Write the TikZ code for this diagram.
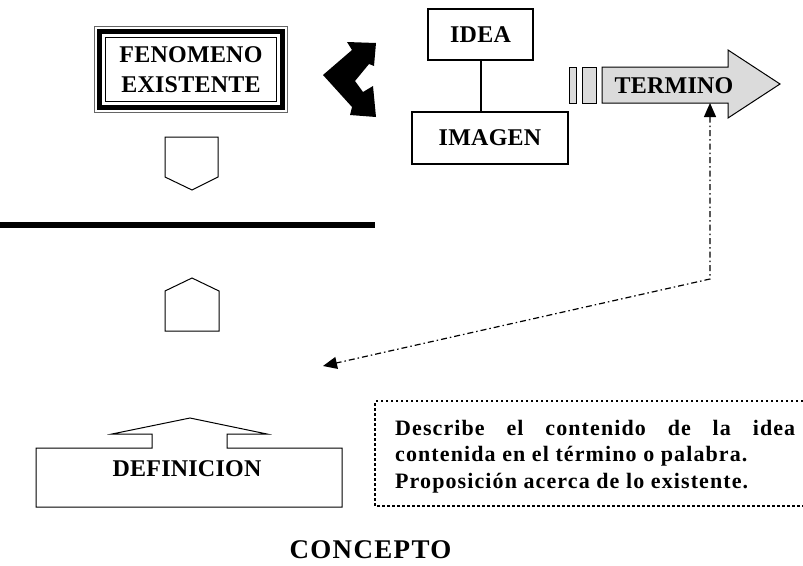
\documentclass[tikz,border=0pt]{standalone}
\usepackage{fontspec}
\setmainfont{Liberation Serif}
\usetikzlibrary{arrows.meta, positioning}
\newcommand{\capsfont}{\fontsize{24}{30}\selectfont\bfseries\addfontfeatures{LetterSpace=1}}
\newcommand{\bodyfont}{\fontsize{22}{26.5}\selectfont\bfseries\addfontfeatures{LetterSpace=5}}
\newcommand{\titlefont}{\fontsize{27}{30}\selectfont\bfseries\addfontfeatures{LetterSpace=5}}
\tikzstyle{block} = [rectangle, draw=black, text centered, font=\capsfont]
\tikzstyle{outline} = [draw=black, line width=1pt]
\tikzstyle{linkarrow} = [{Triangle[length=14pt,width=12pt]}-{Triangle[length=14pt,width=12pt]}, line width=1.2pt, dash pattern=on 6pt off 3pt on 1.5pt off 3pt]

\begin{document}
\begin{tikzpicture}[x=1pt, y=-1pt]
    \useasboundingbox (0,0) rectangle (803,565);

    % top row
    \node (fenomeno) [minimum width=192pt, minimum height=85pt, align=center, font=\capsfont] at (191,69.5) {FENOMENO\\EXISTENTE};
    \draw [line width=0.8pt, draw=black!60] (fenomeno.north west) rectangle (fenomeno.south east);
    \draw [line width=5pt] ([shift={(5pt,-5pt)}]fenomeno.north west) rectangle ([shift={(-5pt,5pt)}]fenomeno.south east);
    \draw [line width=1pt] ([shift={(10.5pt,-10.5pt)}]fenomeno.north west) rectangle ([shift={(-10.5pt,10.5pt)}]fenomeno.south east);

    \fill (323,75) -- (352,50) -- (347,42) -- (376,43) -- (374,66) -- (369,64) -- (355,81) -- (363,92) -- (373,86) -- (376,117) -- (350,115) -- (352,107) -- cycle;

    \node (idea) [block, line width=1.2pt, minimum width=105pt, minimum height=51pt] at (480.5,34.5) {IDEA};
    \node (imagen) [block, line width=2pt, minimum width=156pt, minimum height=52pt] at (490,138) {IMAGEN};
    \draw [line width=2pt] (idea.south) -- (idea.south |- imagen.north);

    \filldraw [outline, fill=black!14] (569,67) rectangle (576,103);
    \filldraw [outline, fill=black!14] (582,67) rectangle (596,103);
    \filldraw [outline, fill=black!14] (602,67) -- (728,67) -- (728,50) -- (780,84) -- (728,118) -- (728,103) -- (602,103) -- cycle;
    \node (termino) [font=\capsfont] at (674,86) {TERMINO};

    % left column
    \draw [outline] (165,137) -- (218,137) -- (218,177) -- (192,190) -- (165,177) -- cycle;
    \draw [line width=6.5pt] (0,225) -- (375,225);
    \draw [outline] (165,331) -- (219,331) -- (219,291) -- (192,278) -- (165,291) -- cycle;

    \draw [outline] (36,448) -- (152,448) -- (152,434) -- (112,434) -- (190,418) -- (267,434) -- (227,434) -- (227,448) -- (342,448) -- (342,507) -- (36,507) -- cycle;
    \node (definicion) [font=\capsfont] at (187,469) {DEFINICION};

    % link from the term
    \coordinate (termtip) at (710,103);
    \coordinate (bend) at (710,279);
    \coordinate (target) at (323,366);
    \draw [linkarrow] (termtip) -- (bend) -- (target);

    % note
    \draw [line width=1.5pt, dash pattern=on 2.5pt off 2.5pt] (803,401) -- (375,401) -- (375,506) -- (803,506);
    \node (note) [anchor=north west, inner sep=0pt, text width=400pt, align=justify, font=\bodyfont] at (395,420) {Describe el contenido de la idea\linebreak contenida en el término o palabra.\\ Proposición acerca de lo existente.};

    \node (concepto) [font=\titlefont, inner sep=1pt] at (370.5,550) {CONCEPTO};

\end{tikzpicture}
\end{document}
